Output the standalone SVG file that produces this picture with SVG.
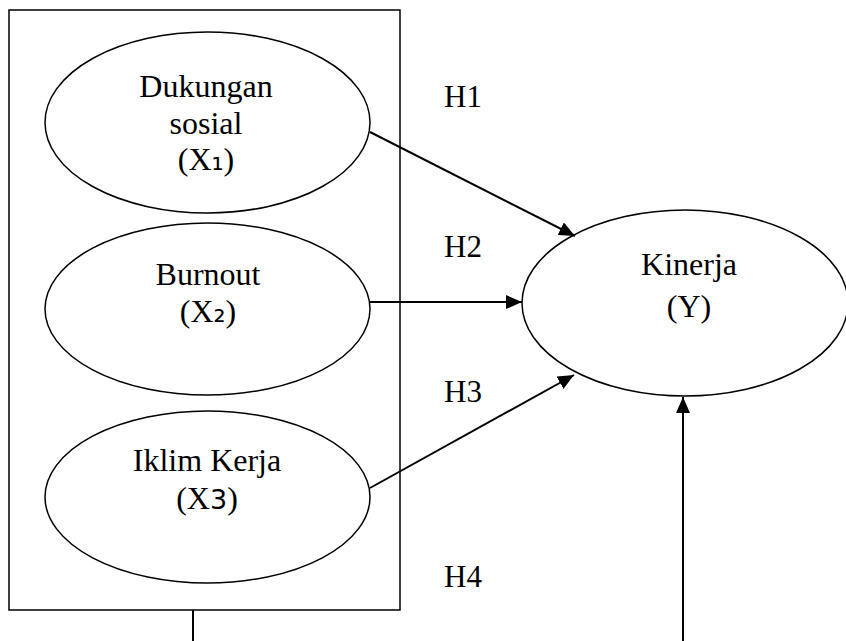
<svg xmlns="http://www.w3.org/2000/svg" width="846" height="641" viewBox="0 0 846 641">
<style>
.n{fill:#fff;stroke:#000;stroke-width:1.5}
.t{font-family:"Liberation Serif","DejaVu Sans",serif;font-size:32px;fill:#000;text-anchor:middle}
.h{font-family:"Liberation Serif",serif;font-size:31px;fill:#000}
.c{stroke:#000;stroke-width:2;fill:none}
.s{font-family:"DejaVu Sans",sans-serif;font-size:27px}
.sub{font-family:"DejaVu Sans",sans-serif;font-size:30px}
</style>
<defs>
<marker id="ah" markerUnits="userSpaceOnUse" markerWidth="16" markerHeight="14" refX="16" refY="7" orient="auto" viewBox="0 0 16 14">
<path d="M0,0 L16,7 L0,14 z" fill="#000"/>
</marker>
</defs>
<rect id="box" x="9" y="10" width="391" height="600" fill="none" stroke="#000" stroke-width="1.5"/>
<g id="x1">
<ellipse class="n" cx="207.5" cy="122.5" rx="162.5" ry="90.5"/>
<text class="t" x="206" y="97">Dukungan</text>
<text class="t" x="206" y="134">sosial</text>
<text class="t" x="206" y="170">(X<tspan class="sub">₁</tspan>)</text>
</g>
<g id="x2">
<ellipse class="n" cx="207.5" cy="309" rx="162.5" ry="86"/>
<text class="t" x="208" y="285">Burnout</text>
<text class="t" x="208" y="322">(X<tspan class="sub">₂</tspan>)</text>
</g>
<g id="x3">
<ellipse class="n" cx="207.5" cy="497" rx="162.5" ry="86"/>
<text class="t" x="207" y="471">Iklim Kerja</text>
<text class="t" x="207" y="509">(X<tspan class="s">3</tspan>)</text>
</g>
<g id="y">
<ellipse class="n" cx="685" cy="303" rx="163" ry="93"/>
<text class="t" x="689" y="275">Kinerja</text>
<text class="t" x="689" y="317">(Y)</text>
</g>
<g id="connectors">
<line class="c" x1="370" y1="132" x2="575" y2="236" marker-end="url(#ah)"/>
<line class="c" x1="370" y1="302" x2="522" y2="302" marker-end="url(#ah)"/>
<line class="c" x1="370" y1="488" x2="574" y2="375" marker-end="url(#ah)"/>
<line class="c" x1="683" y1="641" x2="683" y2="397" marker-end="url(#ah)"/>
<line class="c" x1="193" y1="610" x2="193" y2="641"/>
</g>
<g id="labels">
<text class="h" x="444" y="107">H1</text>
<text class="h" x="444" y="257">H2</text>
<text class="h" x="444" y="402">H3</text>
<text class="h" x="444" y="587">H4</text>
</g>
</svg>
